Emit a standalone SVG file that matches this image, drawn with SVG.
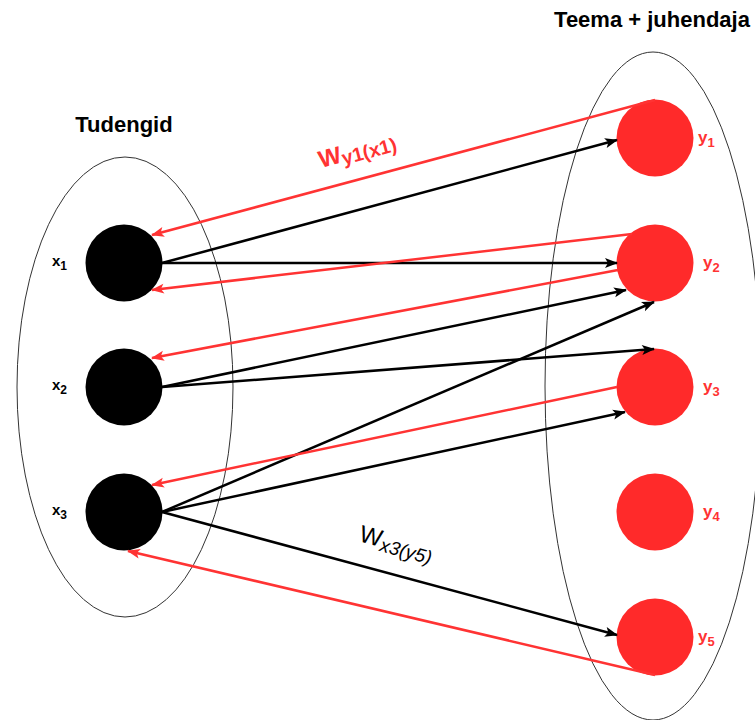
<svg xmlns="http://www.w3.org/2000/svg" width="755" height="720" viewBox="0 0 755 720">
<defs>
<style>
.grp{fill:none;stroke:#333;stroke-width:1}
.xn{fill:#000}
.yn{fill:#FF2A2A}
.title{font-family:"Liberation Sans",Arial,sans-serif;font-weight:bold;font-size:22px;fill:#000;text-anchor:middle}
.xl{font-family:"Liberation Sans",Arial,sans-serif;font-weight:bold;font-size:15px;fill:#000}
.yl{font-family:"Liberation Sans",Arial,sans-serif;font-weight:bold;font-size:17px;fill:#FF3333}
.bk{stroke:#000;stroke-width:2.5;fill:none;marker-end:url(#ab)}
.rd{stroke:#FF3333;stroke-width:2.5;fill:none;marker-end:url(#ar)}
</style>
<marker id="ab" markerUnits="userSpaceOnUse" markerWidth="14" markerHeight="12" refX="12" refY="5" orient="auto" overflow="visible">
<path d="M0,0 L13,5 L0,10 L3,5 Z" fill="#000"/>
</marker>
<marker id="ar" markerUnits="userSpaceOnUse" markerWidth="14" markerHeight="12" refX="12" refY="5" orient="auto" overflow="visible">
<path d="M0,0 L13,5 L0,10 L3,5 Z" fill="#FF3333"/>
</marker>
</defs>
<rect width="755" height="720" fill="#fff"/>
<g id="group-students">
<ellipse class="grp" cx="125" cy="387" rx="108" ry="230"/>
<text class="title" x="124" y="132">Tudengid</text>
</g>
<g id="group-topics">
<ellipse class="grp" cx="653" cy="386" rx="108" ry="334"/>
<text class="title" x="652" y="27">Teema + juhendaja</text>
</g>
<g id="x1"><circle class="xn" cx="124" cy="263" r="38.5"/><text class="xl" x="52" y="266">x<tspan font-size="12" dy="4">1</tspan></text></g>
<g id="x2"><circle class="xn" cx="124" cy="387" r="38.5"/><text class="xl" x="52" y="390">x<tspan font-size="12" dy="4">2</tspan></text></g>
<g id="x3"><circle class="xn" cx="124" cy="512" r="38.5"/><text class="xl" x="52" y="515">x<tspan font-size="12" dy="4">3</tspan></text></g>
<g id="y1"><circle class="yn" cx="655" cy="138" r="38.5"/><text class="yl" x="698" y="143">y<tspan font-size="13" dy="4">1</tspan></text></g>
<g id="y2"><circle class="yn" cx="655" cy="263" r="38.5"/><text class="yl" x="703" y="268">y<tspan font-size="13" dy="4">2</tspan></text></g>
<g id="y3"><circle class="yn" cx="655" cy="387" r="38.5"/><text class="yl" x="703" y="392">y<tspan font-size="13" dy="4">3</tspan></text></g>
<g id="y4"><circle class="yn" cx="655" cy="512" r="38.5"/><text class="yl" x="703" y="517">y<tspan font-size="13" dy="4">4</tspan></text></g>
<g id="y5"><circle class="yn" cx="655" cy="637" r="38.5"/><text class="yl" x="698" y="642">y<tspan font-size="13" dy="4">5</tspan></text></g>
<g id="connectors">
<line class="bk" x1="162" y1="263" x2="617" y2="140"/>
<line class="bk" x1="162" y1="263" x2="617" y2="263"/>
<line class="bk" x1="162" y1="387" x2="626" y2="290"/>
<line class="bk" x1="162" y1="387" x2="654" y2="349"/>
<line class="bk" x1="162" y1="512" x2="654" y2="302"/>
<line class="bk" x1="162" y1="512" x2="625" y2="412"/>
<line class="bk" x1="162" y1="512" x2="617" y2="635"/>
<line class="rd" x1="655" y1="100" x2="152" y2="235"/>
<line class="rd" x1="632" y1="234" x2="152" y2="290"/>
<line class="rd" x1="618" y1="270" x2="152" y2="358"/>
<line class="rd" x1="617" y1="387" x2="152" y2="485"/>
<line class="rd" x1="655" y1="675" x2="128" y2="551"/>
<text x="321" y="168" transform="rotate(-15 321 168)" font-family="Liberation Sans, Arial, sans-serif" font-weight="bold" font-size="24" fill="#FF3333">W<tspan font-size="19.5" dy="3">y1(x1)</tspan></text>
<text x="358" y="541" transform="rotate(15 358 541)" font-family="Liberation Sans, Arial, sans-serif" font-size="24" fill="#000">W<tspan font-size="19" font-style="italic" dy="4">x3(y5)</tspan></text>
</g>
</svg>
